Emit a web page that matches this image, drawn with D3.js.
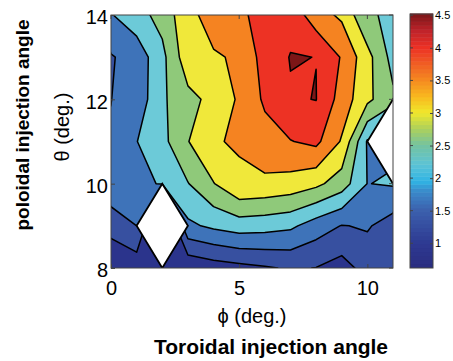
<!DOCTYPE html>
<html lang="en">
<head>
	<meta charset="UTF-8">
	<title>Injection angle scan</title>
	<script src="https://cdn.jsdelivr.net/npm/d3@7/dist/d3.min.js"></script>
	<style>
		body { margin: 0; background: #fff; }
		text { font-family: "Liberation Sans", Arial, Helvetica, sans-serif; fill: #000; }
	</style>
</head>
<body>
	<div id="container"></div>

	<script>

			// grid, one row per theta (null = no data)
			var phi = [0, 1, 2, 3, 4, 5, 6, 7, 8, 9, 10, 11];
			var theta = [8, 9, 10, 11, 12, 13, 14];
			var z8  = [0.62, 0.70, 0.75, 0.60, 0.75, 0.85, 0.95, 1.05, 0.99, 0.80, 1.19, 1.10];
			var z9  = [1.16, 1.50, null, 1.90, 2.10, 2.25, 2.20, 2.10, 1.75, 1.48, 1.55, 1.26];
			var z10 = [1.91, 1.96, 2.013, 2.48, 2.98, 3.45, 3.40, 3.31, 3.12, 2.75, 1.99, 2.05];
			var z11 = [1.533, 1.989, 2.35, 2.98, 3.48, 3.528, 3.80, 3.98, 4.12, 3.45, 1.95, null];
			var z12 = [1.495, 1.683, 2.42, 2.85, 3.144, 3.568, 4.08, 4.46, 4.51, 3.79, 3.116, 2.60];
			var z13 = [1.46, 1.70, 2.36, 3.32, 3.45, 3.56, 4.21, 4.52, 4.496, 3.96, 3.17, 2.32];
			var z14 = [1.97, 2.30, 2.685, 3.355, 3.71, 3.93, 4.13, 4.34, 3.71, 3.41, 2.55, 2.43];
			var zRows = [z8, z9, z10, z11, z12, z13, z14];

			// values used under the blanked holes so the lines around them behave
			var holeFill = { "2,9": 0.0, "11,11": 1.9 };

			var levels = [1, 1.5, 2, 2.5, 3, 3.5, 4, 4.5];
			var bandColors = ["#2b348c", "#3750a0", "#3e73b9", "#6ccad8", "#8fc97a",
			                  "#f0e83a", "#f58321", "#ed3224", "#7c1617"];

			var xTicks = [0, 5, 10];
			var yTicks = [8, 10, 12, 14];
			var cbTicks = [1, 1.5, 2, 2.5, 3, 3.5, 4, 4.5];
			var cbDomain = [0.62, 4.52];
			var cbStops = [0.62, 1.0, 1.5, 1.8, 1.95, 2.2, 2.5, 2.75, 3.0, 3.25, 3.5, 3.8, 4.0, 4.25, 4.52];
			var cbColors = ["#2a2d80", "#2e3a92", "#3c60ad", "#3a8ccb", "#30b4e4", "#5cc3d6", "#74c3a0",
			                "#acd05c", "#f0e82c", "#f8b81f", "#f58a20", "#ef5424", "#ec3124", "#c0232a", "#7a1518"];

			var width = 453, height = 361;
			var plot = { left: 111, top: 15, right: 393, bottom: 268 };
			var cb = { left: 410, right: 433, top: 14, bottom: 268 };

			var svg = d3.select("#container").append("svg")
					.attr("width", width)
					.attr("height", height);

			var xscale = d3.scaleLinear().domain([0, 11]).range([plot.left, plot.right]);
			var yscale = d3.scaleLinear().domain([8, 14]).range([plot.bottom, plot.top]);

			svg.append("clipPath").attr("id", "plot-clip")
				.append("rect")
					.attr("x", plot.left).attr("y", plot.top)
					.attr("width", plot.right - plot.left)
					.attr("height", plot.bottom - plot.top);

			var nx = phi.length, ny = theta.length;
			var grid = [];
			zRows.forEach(function(row, j){
				row.forEach(function(v, i){
					grid.push(v == null ? holeFill[phi[i] + "," + theta[j]] : v);
				});
			});

			var thresholds = [d3.min(grid) - 1].concat(levels);
			var contours = d3.contours().size([nx, ny]).thresholds(thresholds)(grid);

			var dphi = phi[1] - phi[0], dtheta = theta[1] - theta[0];
			var path = d3.geoPath(d3.geoTransform({
				point: function(x, y){
					this.stream.point(xscale(phi[0] + (x - 0.5) * dphi), yscale(theta[0] + (y - 0.5) * dtheta));
				}
			}));

			var g = svg.append("g").attr("clip-path", "url(#plot-clip)");

			g.selectAll("path.band")
				.data(contours)
				.enter().append("path")
					.attr("class", "band")
					.attr("d", path)
					.attr("fill", function(d, i){ return bandColors[i]; })
					.attr("stroke", function(d, i){ return i === 0 ? "none" : "#000"; })
					.attr("stroke-width", 1.5)
					.attr("stroke-linejoin", "round");

			// blank out the missing points
			var holes = [];
			zRows.forEach(function(row, j){
				row.forEach(function(v, i){ if (v == null) holes.push([phi[i], theta[j]]); });
			});

			g.selectAll("path.hole")
				.data(holes)
				.enter().append("path")
					.attr("class", "hole")
					.attr("d", function(d){
						var pts = [[d[0] - dphi, d[1]], [d[0], d[1] + dtheta], [d[0] + dphi, d[1]], [d[0], d[1] - dtheta]];
						return "M" + pts.map(function(p){ return xscale(p[0]) + "," + yscale(p[1]); }).join("L") + "Z";
					})
					.attr("fill", "#fff")
					.attr("stroke", "#000")
					.attr("stroke-width", 1.8)
					.attr("stroke-linejoin", "miter");

			// axes box
			svg.append("rect")
				.attr("x", plot.left).attr("y", plot.top)
				.attr("width", plot.right - plot.left)
				.attr("height", plot.bottom - plot.top)
				.attr("fill", "none")
				.attr("stroke", "#444")
				.attr("stroke-width", 1);

			var xAxis = svg.append("g")
					.attr("transform", "translate(0," + plot.bottom + ")")
					.call(d3.axisBottom(xscale).tickValues(xTicks).tickSize(-4).tickPadding(13).tickFormat(d3.format("d")));
			var yAxis = svg.append("g")
					.attr("transform", "translate(" + plot.left + ",0)")
					.call(d3.axisLeft(yscale).tickValues(yTicks).tickSize(-4).tickPadding(3).tickFormat(d3.format("d")));

			[xAxis, yAxis].forEach(function(ax){
				ax.select(".domain").remove();
				ax.selectAll("line").attr("stroke", "#444");
				ax.selectAll("text").attr("font-size", 20).attr("font-family", null);
			});
			yAxis.selectAll("text").attr("dy", "0.44em");

			// top and right ticks
			svg.append("g").selectAll("line")
				.data(xTicks).enter().append("line")
					.attr("x1", function(d){ return xscale(d); })
					.attr("x2", function(d){ return xscale(d); })
					.attr("y1", plot.top).attr("y2", plot.top + 4)
					.attr("stroke", "#444");
			svg.append("g").selectAll("line")
				.data(yTicks).enter().append("line")
					.attr("x1", plot.right - 4).attr("x2", plot.right)
					.attr("y1", function(d){ return yscale(d); })
					.attr("y2", function(d){ return yscale(d); })
					.attr("stroke", "#444");

			// colorbar
			var cbscale = d3.scaleLinear().domain(cbDomain).range([cb.bottom, cb.top]);
			var cbColor = d3.scaleLinear().domain(cbStops).range(cbColors);
			var nsteps = 64;
			var step = (cbDomain[1] - cbDomain[0]) / nsteps;
			var steps = d3.range(nsteps).map(function(k){ return cbDomain[0] + k * step; });

			svg.append("g").selectAll("rect")
				.data(steps).enter().append("rect")
					.attr("x", cb.left)
					.attr("y", function(d){ return cbscale(d + step) - 0.5; })
					.attr("width", cb.right - cb.left)
					.attr("height", function(d){ return cbscale(d) - cbscale(d + step) + 0.5; })
					.attr("fill", function(d){ return cbColor(d + step / 2); });

			svg.append("rect")
				.attr("x", cb.left).attr("y", cb.top)
				.attr("width", cb.right - cb.left)
				.attr("height", cb.bottom - cb.top)
				.attr("fill", "none")
				.attr("stroke", "#444");

			var cbAxis = svg.append("g")
					.attr("transform", "translate(" + cb.right + ",0)")
					.call(d3.axisRight(cbscale).tickValues(cbTicks).tickSize(-3).tickPadding(2).tickFormat(d3.format("~g")));
			cbAxis.select(".domain").remove();
			cbAxis.selectAll("line").attr("stroke", "#444");
			cbAxis.selectAll("text").attr("font-size", 11).attr("font-family", null);
			svg.append("g").selectAll("line")
				.data(cbTicks).enter().append("line")
					.attr("x1", cb.left).attr("x2", cb.left + 3)
					.attr("y1", function(d){ return cbscale(d); })
					.attr("y2", function(d){ return cbscale(d); })
					.attr("stroke", "#444");

			// labels
			svg.append("text")
				.attr("x", (plot.left + plot.right) / 2)
				.attr("y", 323)
				.attr("text-anchor", "middle")
				.attr("font-size", 20)
				.text("\u03d5 (deg.)");

			svg.append("text")
				.attr("transform", "translate(69,127) rotate(-90)")
				.attr("text-anchor", "middle")
				.attr("font-size", 20)
				.text("\u03b8 (deg.)");

			svg.append("text")
				.attr("x", 271)
				.attr("y", 354)
				.attr("text-anchor", "middle")
				.attr("font-size", 21)
				.attr("font-weight", "bold")
				.text("Toroidal injection angle");

			svg.append("text")
				.attr("transform", "translate(29,125) rotate(-90)")
				.attr("text-anchor", "middle")
				.attr("font-size", 19)
				.attr("font-weight", "bold")
				.text("poloidal injection angle");

	</script>
</body>
</html>
